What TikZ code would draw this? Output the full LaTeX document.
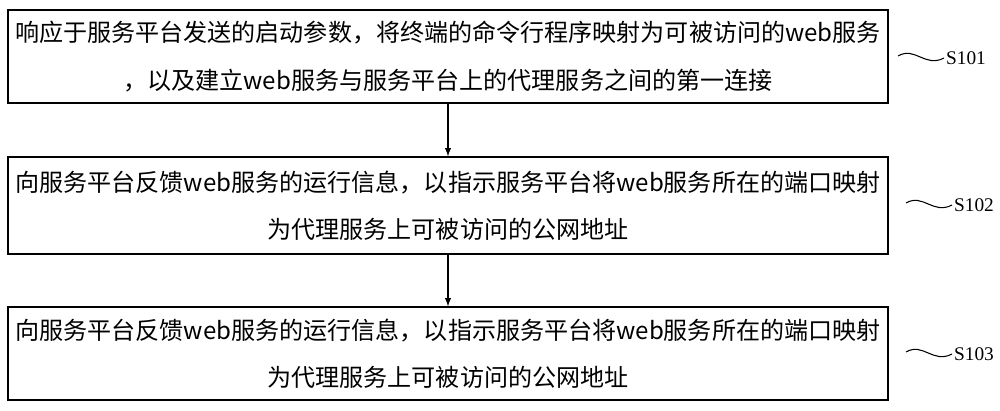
\documentclass[tikz,border=0pt]{standalone}
\usepackage{fontspec}
\setmainfont{Liberation Serif}
\newfontfamily\cjk{Noto Sans CJK SC}
\begin{document}
\begin{tikzpicture}[x=0.02cm,y=-0.02cm,
  stepbox/.style={draw,line width=0.8pt,minimum width=17.6cm,minimum height=1.86cm,
    align=center,font=\cjk\fontsize{13.7}{27}\selectfont,inner sep=0pt},
  flow/.style={->,>=latex,line width=0.6pt}]
  \useasboundingbox (0,0) rectangle (1000,410);
  \node[stepbox] (s1) at (448,56.5) {响应于服务平台发送的启动参数，将终端的命令行程序映射为可被访问的web服务\\，以及建立web服务与服务平台上的代理服务之间的第一连接};
  \node[stepbox,minimum height=1.94cm] (s2) at (448,205.5) {向服务平台反馈web服务的运行信息，以指示服务平台将web服务所在的端口映射\\为代理服务上可被访问的公网地址};
  \node[stepbox] (s3) at (448,353.5) {向服务平台反馈web服务的运行信息，以指示服务平台将web服务所在的端口映射\\为代理服务上可被访问的公网地址};
  \draw[flow] (s1) -- (s2);
  \draw[flow] (s2) -- (s3);
  % step labels
  \foreach \n/\y/\dx in {1/58/0,2/205/8,3/354/8} {
    \node[anchor=west,inner sep=1pt,font=\fontsize{11}{13}\selectfont] (l\n) at (944+\dx,\y) {S10\n};
    \draw[line width=0.6pt] (898+\dx,\y-2) .. controls (915+\dx,\y-12) and (925+\dx,\y+10) .. (l\n.west);
  }
\end{tikzpicture}
\end{document}
